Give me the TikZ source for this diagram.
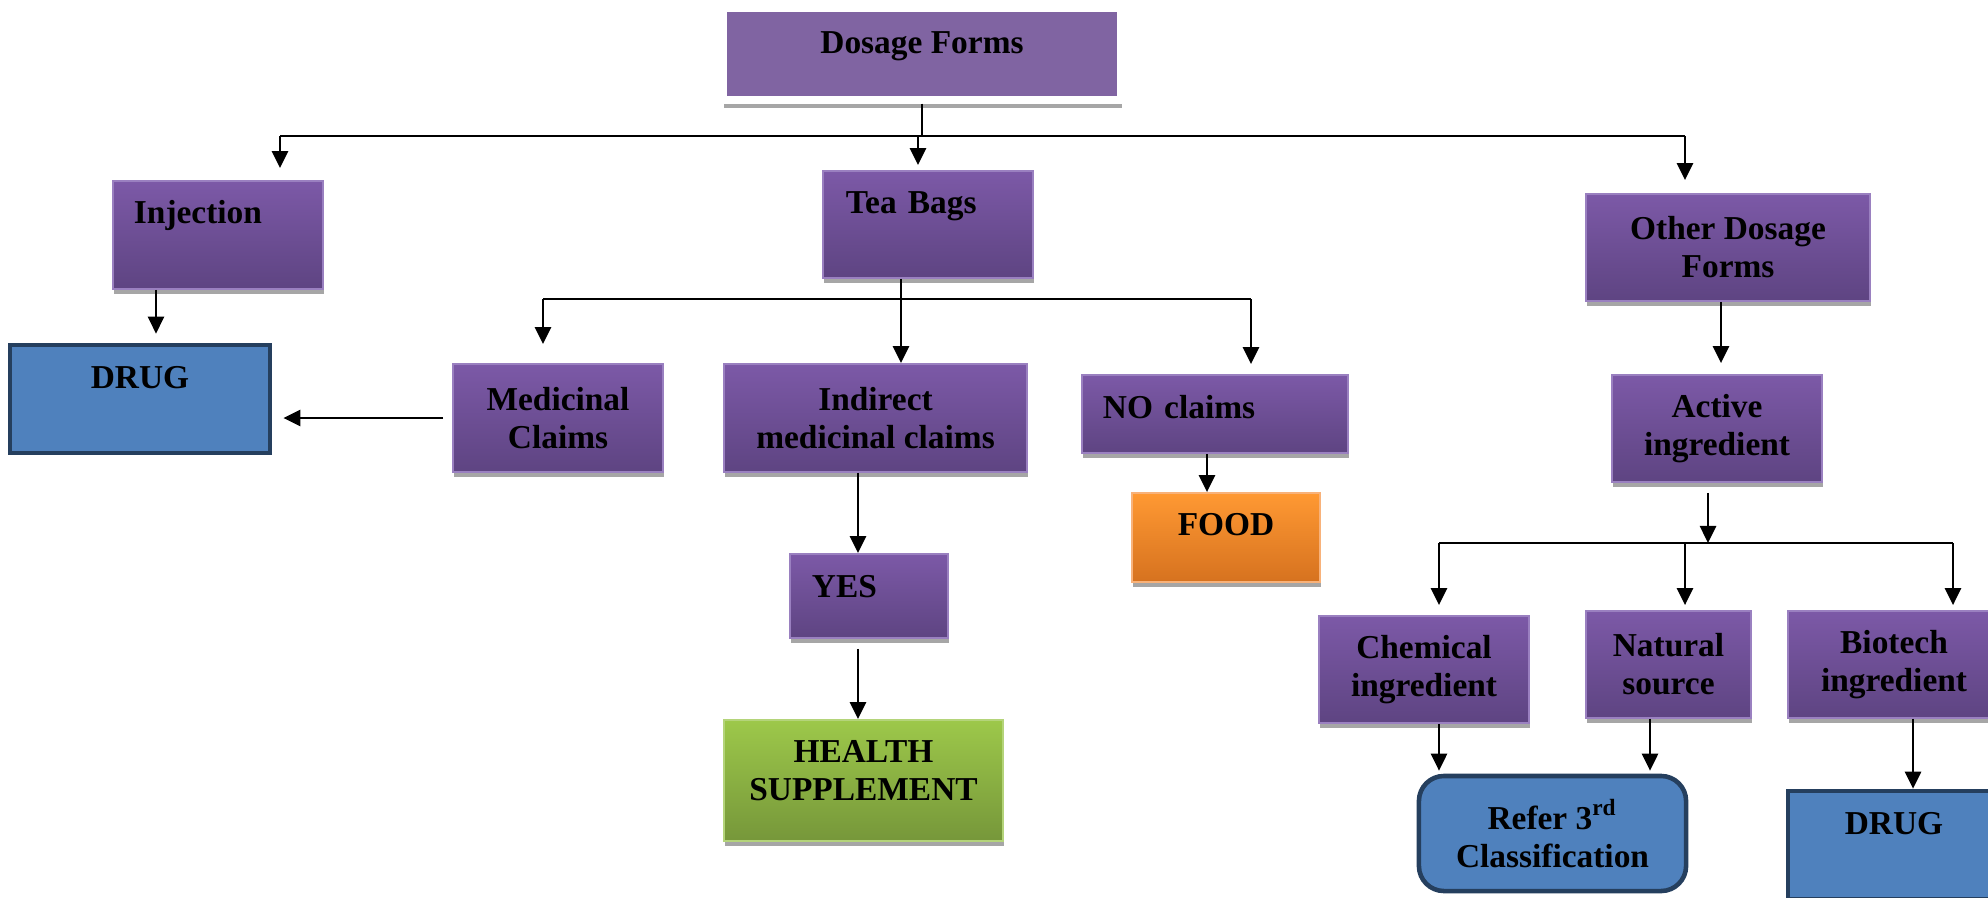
\documentclass[tikz,border=0pt]{standalone}
\usepackage{fontspec}
\setmainfont{Liberation Serif}
\usepackage{tikz}
\usetikzlibrary{shapes,arrows}
\usetikzlibrary{arrows.meta}
\usetikzlibrary{shadows}

\definecolor{formtop}{HTML}{7C59A7}
\definecolor{formbot}{HTML}{5E4482}
\definecolor{formedge}{HTML}{9A80C0}
\definecolor{headfill}{HTML}{8064A2}
\definecolor{drugfill}{HTML}{4F81BD}
\definecolor{drugedge}{HTML}{253F5E}
\definecolor{foodtop}{HTML}{FF9933}
\definecolor{foodbot}{HTML}{D6721F}
\definecolor{foodedge}{HTML}{F8B27A}
\definecolor{healthtop}{HTML}{9DC84A}
\definecolor{healthbot}{HTML}{76973A}
\definecolor{healthedge}{HTML}{B4D47A}

\begin{document}
\begin{tikzpicture}[x=0.01cm,y=-0.01cm,
	>={Triangle[length=0.17cm,width=0.16cm]},
	every node/.style={rectangle,inner sep=0pt,font=\bfseries\fontsize{9.5}{10.8}\selectfont},
	flat/.style={line width=0.75pt},
	boxsize/.style 2 args={minimum width=#1,minimum height=#2},
	lefttext/.style 2 args={align=left,inner xsep=#1,text width=#2},
	lift/.style={text height=7pt,text depth=#1},
	boxshadow/.style={drop shadow={shadow xshift=0.01cm,shadow yshift=-0.045cm,fill=black!35,opacity=1}},
	headbox/.style={fill=headfill,draw=white,line width=0.08cm,align=center,
		drop shadow={shadow xshift=0.01cm,shadow yshift=-0.08cm,fill=black!35,opacity=1}},
	formbox/.style={draw=formedge,line width=0.5pt,top color=formtop,bottom color=formbot,boxshadow,align=center},
	drugbox/.style={draw=drugedge,line width=1.3pt,fill=drugfill,align=center},
	referbox/.style={drugbox,rounded corners=0.25cm},
	foodbox/.style={draw=foodedge,line width=0.5pt,top color=foodtop,bottom color=foodbot,boxshadow,align=center},
	healthbox/.style={draw=healthedge,line width=0.5pt,top color=healthtop,bottom color=healthbot,boxshadow,align=center}]

	\useasboundingbox (0,0) rectangle (1988,897);
	\clip (0,0) rectangle (1988,897);

	% Draw boxes
	\node[headbox,boxsize={3.97cm}{0.91cm},lift=7pt] (dosage) at (922,54) {Dosage Forms};
	\node[formbox,boxsize={2.10cm}{1.08cm},lefttext={0.21cm}{1.68cm},lift=13.3pt] (inj) at (218,235) {Injection};
	\node[formbox,boxsize={2.10cm}{1.07cm},lefttext={0.23cm}{1.64cm},lift=13pt] (tea) at (928,224.5) {Tea Bags};
	\node[formbox,boxsize={2.84cm}{1.07cm}] (other) at (1728,247.5) {Other Dosage\\Forms};
	\node[drugbox,boxsize={2.60cm}{1.08cm},lift=12.7pt] (drugL) at (140,399) {DRUG};
	\node[formbox,boxsize={2.10cm}{1.08cm}] (med) at (558,418) {Medicinal\\Claims};
	\node[formbox,boxsize={3.03cm}{1.08cm}] (ind) at (875.5,418) {Indirect\\medicinal claims};
	\node[formbox,boxsize={2.66cm}{0.78cm},lefttext={0.21cm}{2.24cm},lift=4.2pt] (noc) at (1215,414) {NO claims};
	\node[foodbox,boxsize={1.88cm}{0.89cm},lift=8.2pt] (food) at (1226,537.5) {FOOD};
	\node[formbox,boxsize={1.58cm}{0.84cm},lefttext={0.22cm}{1.14cm},lift=5.9pt] (yes) at (869,596) {YES};
	\node[healthbox,boxsize={2.79cm}{1.21cm},text height=17.8pt,text depth=6.2pt] (health) at (863.5,780.5) {HEALTH\\SUPPLEMENT};
	\node[formbox,boxsize={2.10cm}{1.07cm}] (active) at (1717,428.5) {Active\\ingredient};
	\node[formbox,boxsize={2.10cm}{1.07cm}] (chem) at (1424,669.5) {Chemical\\ingredient};
	\node[formbox,boxsize={1.65cm}{1.07cm}] (nat) at (1668.5,664.5) {Natural\\source};
	\node[formbox,boxsize={2.12cm}{1.07cm}] (bio) at (1894,664.5) {Biotech\\ingredient};
	\node[referbox,boxsize={2.67cm}{1.15cm}] (refer) at (1552.5,833.5) {Refer 3\textsuperscript{rd}\\Classification};
	\node[drugbox,boxsize={2.12cm}{1.08cm},lift=12.7pt] (drugR) at (1894,845) {DRUG};

	% Draw top level branches
	\coordinate (t1) at (280,136);
	\coordinate (t2) at (918,136);
	\coordinate (t3) at (1685,136);
	\draw[flat] (dosage.south) -- (dosage.south |- t2);
	\draw[flat] (t1) -- (t3);
	\draw[flat,->,shorten >=0.12cm] (t1) -- (t1 |- inj.north);
	\draw[flat,->,shorten >=0.05cm] (t2) -- (t2 |- tea.north);
	\draw[flat,->,shorten >=0.13cm] (t3) -- (t3 |- other.north);

	% Draw tea bag branches
	\coordinate (m1) at (543,299);
	\coordinate (m2) at (901,299);
	\coordinate (m3) at (1251,299);
	\draw[flat] (m2 |- tea.south) -- (m2);
	\draw[flat] (m1) -- (m3);
	\draw[flat,->,shorten >=0.19cm] (m1) -- (m1 |- med.north);
	\draw[flat,->] (m2) -- (m2 |- ind.north);
	\draw[flat,->,shorten >=0.10cm] (m3) -- (m3 |- noc.north);

	% Draw single arrows
	\coordinate (c1) at (156,0);
	\coordinate (c2) at (1207,0);
	\coordinate (c3) at (858,0);
	\coordinate (c4) at (1721,0);
	\draw[flat,->,shorten >=0.09cm] (c1 |- inj.south) -- (c1 |- drugL.north);
	\draw[flat,->,shorten <=0.09cm,shorten >=0.11cm] (med.west) -- (med.west -| drugL.east);
	\draw[flat,->] (c2 |- noc.south) -- (c2 |- food.north);
	\draw[flat,->] (c3 |- ind.south) -- (c3 |- yes.north);
	\draw[flat,->,shorten <=0.10cm] (c3 |- yes.south) -- (c3 |- health.north);
	\draw[flat,->,shorten >=0.11cm] (c4 |- other.south) -- (c4 |- active.north);

	% Draw active ingredient branches
	\coordinate (b0) at (1708,543);
	\coordinate (b1) at (1439,543);
	\coordinate (b2) at (1685,543);
	\coordinate (b3) at (1953,543);
	\draw[flat,->,shorten <=0.10cm] (b0 |- active.south) -- (b0);
	\draw[flat] (b1) -- (b3);
	\draw[flat,->,shorten >=0.10cm] (b1) -- (b1 |- chem.north);
	\draw[flat,->,shorten >=0.05cm] (b2) -- (b2 |- nat.north);
	\draw[flat,->,shorten >=0.05cm] (b3) -- (b3 |- bio.north);

	% Draw outcome arrows
	\coordinate (c5) at (1650,0);
	\coordinate (c6) at (1913,0);
	\draw[flat,->,shorten >=0.03cm] (b1 |- chem.south) -- (b1 |- refer.north);
	\draw[flat,->,shorten >=0.03cm] (c5 |- nat.south) -- (c5 |- refer.north);
	\draw[flat,->] (c6 |- bio.south) -- (c6 |- drugR.north);

\end{tikzpicture}
\end{document}
